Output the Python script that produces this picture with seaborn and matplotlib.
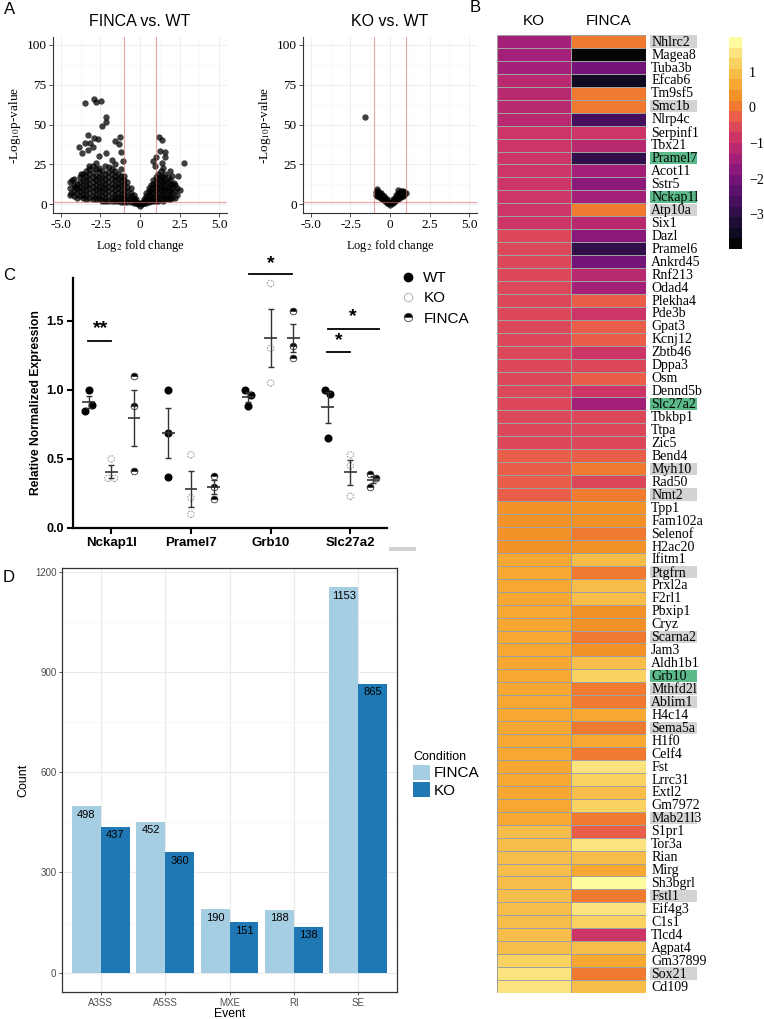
import numpy as np
import pandas as pd
import seaborn as sns
import matplotlib.pyplot as plt
from matplotlib.colors import ListedColormap
from matplotlib.patches import Rectangle, Patch
from matplotlib.lines import Line2D

# ---------------- Panel A: volcano plots ----------------
# dense cloud read off column by column: one log2FC value, the -log10 p values stacked on it
finca_core_lfc = [-4.4, -4.2, -4.0, -3.8, -3.6, -3.4, -3.2, -3.0, -2.8, -2.6, -2.4, -2.2,
                  -2.0, -1.8, -1.6, -1.4, -1.2, -1.0, -0.8, -0.6, -0.4, -0.25, -0.1, 0.0,
                  0.1, 0.25, 0.4, 0.55, 0.7, 0.85, 1.0, 1.15, 1.3, 1.45, 1.6, 1.75, 1.9,
                  2.05, 2.2, 2.35]
finca_core_logp = [
    [6, 10, 14], [5, 8, 12, 16], [4, 7, 10, 13], [5, 8, 11, 14, 17], [4, 6, 9, 12, 15, 19],
    [3, 6, 9, 12, 15, 18, 21], [4, 7, 10, 13, 16, 19, 22], [3, 5, 8, 11, 14, 17, 20, 24],
    [3, 6, 9, 12, 15, 18, 22, 26], [3, 5, 8, 11, 14, 17, 20, 23], [2, 5, 8, 11, 14, 17, 21],
    [2, 4, 7, 10, 13, 16, 19, 24], [2, 5, 8, 11, 14, 17, 20], [2, 4, 7, 10, 13, 16, 19, 22],
    [2, 4, 6, 9, 12, 15, 18, 21, 25], [2, 4, 7, 10, 13, 16, 19], [1.5, 4, 6, 9, 12, 15, 18, 22],
    [1.5, 3, 6, 9, 12, 15, 18], [1.5, 3, 5, 8, 11, 14], [1.5, 3, 5, 7, 10], [1, 2.5, 4, 6],
    [0.5, 1.5, 3], [0, 1], [-1, 0.5],
    [0, 1], [0.5, 2, 3.5], [1, 3, 5, 7], [1.5, 3.5, 6, 8, 10], [2, 4, 6, 9, 12],
    [2, 4, 7, 10, 13, 15], [2, 5, 8, 11, 14, 17], [2, 4, 7, 10, 13, 16, 19],
    [3, 6, 9, 12, 15, 18, 21], [2, 5, 8, 11, 14, 17], [3, 6, 9, 12, 15, 19],
    [3, 5, 8, 11, 14, 17], [3, 6, 9, 12, 15], [4, 7, 10, 13], [4, 8, 12], [6, 10]]
finca_out_lfc = [-3.46, -2.89, -2.81, -2.45, -2.16, -2.16, -2.43, -3.29, -3.48, -3.14,
                 -3.84, -3.65, -2.89, -2.66, -1.26, -1.61, -1.34, -1.17, -1.09, -3.27,
                 -2.99, -2.62, -2.16, -1.99, -3.2, -3.7, -4.28, -4.1, -4.34, -1.74,
                 1.2, 1.4, 1.24, 1.59, 1.59, 1.03, 0.84, 2.75, 2.39, 1.36,
                 1.9, 2.03, 2.56, 2.16, 1.47, 0.96]
finca_out_logp = [63.8, 66.3, 64.2, 64.8, 55, 51.9, 49, 43.3, 38.5, 38.3,
                  35.8, 31.9, 41.7, 41, 42.5, 39.8, 38.1, 33, 27, 34,
                  36, 30, 32, 23.5, 24, 19, 15, 11, 7, 27.7,
                  42.3, 40.2, 33.3, 32.9, 29.8, 29.8, 27, 25.6, 17.7, 26,
                  20.8, 18, 9, 13.5, 23, 24]

ko_core_lfc = [-0.9, -0.8, -0.7, -0.6, -0.5, -0.4, -0.3, -0.2, -0.1, 0.0,
               0.1, 0.2, 0.3, 0.4, 0.5, 0.6, 0.7, 0.8, 0.9, 1.0]
ko_core_logp = [[6, 7.5], [5, 6.5, 8, 9.5], [4.5, 6, 7.5], [4, 5.5, 7], [3.5, 5, 6],
                [2.5, 4, 5], [2, 3, 4], [1, 2, 3], [0.5, 1.5], [-0.5, 0.5],
                [0.5, 1.5], [1, 2, 3], [2, 3, 4], [2.5, 4, 5.5], [3, 5, 7, 9],
                [4, 5.5, 7], [4.5, 6, 7.5, 8.5], [5, 6.5, 8], [6, 7.5], [7]]
ko_out_lfc = [-1.6]
ko_out_logp = [54.5]

# ---------------- Panel B: heatmap ----------------
genes = ['Nhlrc2', 'Magea8', 'Tuba3b', 'Efcab6', 'Tm9sf5', 'Smc1b', 'Nlrp4c', 'Serpinf1',
         'Tbx21', 'Pramel7', 'Acot11', 'Sstr5', 'Nckap1l', 'Atp10a', 'Six1', 'Dazl',
         'Pramel6', 'Ankrd45', 'Rnf213', 'Odad4', 'Plekha4', 'Pde3b', 'Gpat3', 'Kcnj12',
         'Zbtb46', 'Dppa3', 'Osm', 'Dennd5b', 'Slc27a2', 'Tbkbp1', 'Ttpa', 'Zic5', 'Bend4',
         'Myh10', 'Rad50', 'Nmt2', 'Tpp1', 'Fam102a', 'Selenof', 'H2ac20', 'Ifitm1',
         'Ptgfrn', 'Prxl2a', 'F2rl1', 'Pbxip1', 'Cryz', 'Scarna2', 'Jam3', 'Aldh1b1',
         'Grb10', 'Mthfd2l', 'Ablim1', 'H4c14', 'Sema5a', 'H1f0', 'Celf4', 'Fst', 'Lrrc31',
         'Extl2', 'Gm7972', 'Mab21l3', 'S1pr1', 'Tor3a', 'Rian', 'Mirg', 'Sh3bgrl', 'Fstl1',
         'Eif4g3', 'C1s1', 'Tlcd4', 'Agpat4', 'Gm37899', 'Sox21', 'Cd109']
ko_z = [-1.55, -1.50, -1.42, -1.28, -1.22, -1.18, -1.10, -0.95, -0.92, -0.90,
        -0.88, -0.85, -0.83, -0.80, -0.75, -0.68, -0.65, -0.62, -0.60, -0.58,
        -0.57, -0.56, -0.55, -0.54, -0.53, -0.52, -0.50, -0.49, -0.48, -0.46,
        -0.44, -0.42, -0.35, -0.30, -0.25, -0.20, 0.25, 0.30, 0.35, 0.42,
        0.52, 0.53, 0.54, 0.55, 0.56, 0.57, 0.58, 0.59, 0.60, 0.61,
        0.62, 0.63, 0.64, 0.65, 0.66, 0.67, 0.68, 0.70, 0.72, 0.74,
        0.76, 0.80, 0.83, 0.86, 0.89, 0.92, 0.95, 0.98, 1.01, 1.03,
        1.05, 1.20, 1.45, 1.50]
finca_z = [0.05, -3.95, -2.05, -3.55, 0.02, 0.08, -2.65, -0.88, -1.10, -2.95,
           -1.45, -1.75, -1.42, 0.03, -1.12, -1.72, -2.85, -2.00, -1.15, -1.45,
           -0.25, -0.85, -0.22, -0.24, -0.80, -0.55, -0.28, -0.82, -1.40, -0.58,
           -0.52, -0.50, -0.30, 0.02, -0.55, 0.05, 0.35, 0.32, 0.05, 0.30,
           0.95, 0.06, 0.92, 0.90, 0.40, 0.45, 0.04, 0.38, 0.95, 1.25,
           0.02, 0.05, 0.62, 0.03, 0.60, 0.10, 1.55, 1.25, 0.95, 1.22,
           0.05, -0.20, 1.55, 0.95, 0.65, 1.90, 0.05, 1.50, 1.25, -0.85,
           0.90, 0.65, 0.08, 0.95]
grey_genes = ['Nhlrc2', 'Smc1b', 'Atp10a', 'Myh10', 'Nmt2', 'Ptgfrn', 'Scarna2', 'Mthfd2l',
              'Ablim1', 'Sema5a', 'Mab21l3', 'Fstl1', 'Sox21']
green_genes = ['Pramel7', 'Nckap1l', 'Slc27a2', 'Grb10']

# ---------------- Panel C: qPCR ----------------
qpcr_genes = ['Nckap1l', 'Pramel7', 'Grb10', 'Slc27a2']
wt_expr = [[1.00, 0.85, 0.89], [1.00, 0.69, 0.37], [1.00, 0.96, 0.88], [1.00, 0.97, 0.65]]
ko_expr = [[0.50, 0.36, 0.36], [0.53, 0.22, 0.10], [1.77, 1.30, 1.05], [0.53, 0.45, 0.23]]
finca_expr = [[1.10, 0.88, 0.41], [0.38, 0.30, 0.21], [1.57, 1.32, 1.23], [0.39, 0.36, 0.30]]

# ---------------- Panel D: splicing events ----------------
events = ['A3SS', 'A5SS', 'MXE', 'RI', 'SE']
finca_counts = [498, 452, 190, 188, 1153]
ko_counts = [437, 360, 151, 138, 865]

# ---------------- styling ----------------
plt.rcParams['font.family'] = ['Liberation Sans', 'DejaVu Sans']
plt.rcParams['mathtext.fontset'] = 'stix'
SERIF = 'Liberation Serif'
W, H = 764, 1019

heat_colors = ['#050505', '#110b21', '#1e0d35', '#300f4a', '#46105e', '#5c126d', '#741478',
               '#8b197b', '#a31f78', '#b92970', '#cc3566', '#dc4759', '#e85e48', '#f07a30',
               '#f4922a', '#f6a832', '#f8bd48', '#f9d262', '#fbe47e', '#fdfb9d']

fig = plt.figure(figsize=(W / 100, H / 100), dpi=100)


def px_axes(l, t, r, b):
    return fig.add_axes([l / W, 1 - b / H, (r - l) / W, (b - t) / H])


def volcano(ax, core_x, core_y, out_x, out_y, title):
    xs = [x for x, ys in zip(core_x, core_y) for _ in ys] + list(out_x)
    ys = [y for col in core_y for y in col] + list(out_y)
    ax.set_xlim(-5.5, 5.5)
    ax.set_ylim(-5.5, 105)
    ax.set_xticks([-5, -2.5, 0, 2.5, 5])
    ax.set_xticklabels(['-5.0', '-2.5', '0', '2.5', '5.0'])
    ax.set_yticks([0, 25, 50, 75, 100])
    ax.set_xticks([-3.75, -1.25, 1.25, 3.75], minor=True)
    ax.set_yticks([12.5, 37.5, 62.5, 87.5], minor=True)
    ax.grid(True, which='major', color='#ebebeb', lw=0.6)
    ax.grid(True, which='minor', color='#f5f5f5', lw=0.4)
    ax.set_axisbelow(True)
    sns.scatterplot(x=xs, y=ys, ax=ax, s=21, color='black', alpha=0.75, linewidth=0,
                    legend=False, zorder=3)
    for v in (-1, 1):
        ax.axvline(v, color='#e06666', lw=0.8, alpha=0.6, zorder=4)
    ax.axhline(1.3, color='#e06666', lw=0.8, alpha=0.6, zorder=4)
    for s in ('top', 'right'):
        ax.spines[s].set_visible(False)
    for s in ('left', 'bottom'):
        ax.spines[s].set_color('#333333')
        ax.spines[s].set_linewidth(0.8)
    ax.tick_params(which='major', length=3, width=0.6, color='#333333', pad=1.5, labelsize=9.5)
    ax.tick_params(which='minor', length=0)
    for lab in ax.get_xticklabels() + ax.get_yticklabels():
        lab.set_family(SERIF)
    ax.set_xlabel(r'Log$_2$ fold change', family=SERIF, fontsize=9, labelpad=5)
    ax.set_ylabel(r'-Log$_{10}$p-value', family=SERIF, fontsize=9.5, labelpad=3)
    ax.set_title(title, fontsize=11.5, pad=8)


ax_a1 = px_axes(53, 37, 227, 213)
volcano(ax_a1, finca_core_lfc, finca_core_logp, finca_out_lfc, finca_out_logp, 'FINCA vs. WT')
ax_a2 = px_axes(303, 37, 477, 213)
volcano(ax_a2, ko_core_lfc, ko_core_logp, ko_out_lfc, ko_out_logp, 'KO vs. WT')

# ---------------- Panel B ----------------
heat_df = pd.DataFrame({'KO': ko_z, 'FINCA': finca_z}, index=genes)
ax_b = px_axes(497, 35, 646, 993)
cax = px_axes(729, 37, 742, 249)
sns.heatmap(heat_df, ax=ax_b, cbar_ax=cax, cmap=ListedColormap(heat_colors),
            vmin=-3.98, vmax=1.98, linewidths=0.7, linecolor='#a0a0a0',
            xticklabels=True, yticklabels=False)
ax_b.xaxis.tick_top()
ax_b.tick_params(axis='x', length=0, labelsize=11, pad=5)
ax_b.set_ylabel('')
for i, g in enumerate(genes):
    if g in grey_genes or g in green_genes:
        fc = '#5bb98a' if g in green_genes else '#d3d3d3'
        ax_b.add_patch(Rectangle((2.054, i + 0.03), 0.63, 0.94, facecolor=fc,
                                 edgecolor='none', clip_on=False, zorder=1))
    ax_b.text(2.07, i + 0.55, g, family=SERIF, fontsize=10, va='center', ha='left',
              clip_on=False, zorder=2)
cbar = ax_b.collections[0].colorbar
cbar.outline.set_visible(False)
cbar.set_ticks([-3, -2, -1, 0, 1])
cax.tick_params(length=0, labelsize=10, pad=5)
for lab in cax.get_yticklabels():
    lab.set_family(SERIF)

# ---------------- Panel C ----------------
ax_c = px_axes(73, 278, 387, 528)
dodge = [-0.285, 0.0, 0.285]
jitter_wt = [[0.01, -0.04, 0.04], [0, 0, 0], [-0.04, 0.04, 0], [-0.035, 0.035, 0]]
jitter_ko = [[0, -0.04, 0.04], [0, 0, 0], [0, 0, 0], [0, 0, 0]]
jitter_fi = [[0, 0, 0], [0, 0, 0], [0, 0, 0], [-0.04, 0.04, -0.04]]
for gi in range(len(qpcr_genes)):
    for k, (vals, jit) in enumerate([(wt_expr, jitter_wt), (ko_expr, jitter_ko),
                                     (finca_expr, jitter_fi)]):
        v = np.array(vals[gi])
        xs = gi + dodge[k] + np.array(jit[gi])
        if k == 0:
            ax_c.plot(xs, v, ls='none', marker='o', ms=4.8, color='black', zorder=3)
        elif k == 1:
            ax_c.scatter(xs, v, s=22, facecolors='white', edgecolors='#a0a0a0',
                         linewidths=0.8, linestyles=(0, (1.5, 1)), zorder=3)
        else:
            ax_c.plot(xs, v, ls='none', marker='o', ms=4.8, fillstyle='top', mfc='black',
                      markerfacecoloralt='white', mec='#333333', mew=0.6, zorder=3)
        m = v.mean()
        sem = v.std(ddof=1) / np.sqrt(len(v))
        xc = gi + dodge[k]
        ax_c.errorbar([xc], [m], yerr=[sem], fmt='none', ecolor='#333333', elinewidth=1,
                      capsize=2.5, capthick=1, zorder=4)
        ax_c.hlines(m, xc - 0.08, xc + 0.08, color='#333333', lw=1.2, zorder=4)

ax_c.set_xlim(-0.48, 3.46)
ax_c.set_ylim(0, 1.81)
ax_c.set_yticks([0, 0.5, 1.0, 1.5])
ax_c.set_yticklabels(['0.0', '0.5', '1.0', '1.5'], fontweight='bold', fontsize=9)
ax_c.set_xticks(range(len(qpcr_genes)))
ax_c.set_xticklabels(qpcr_genes, fontweight='bold', fontsize=9.5)
for s in ('top', 'right'):
    ax_c.spines[s].set_visible(False)
for s in ('left', 'bottom'):
    ax_c.spines[s].set_linewidth(1.6)
ax_c.tick_params(length=4, width=1.5, pad=2.5)
ax_c.set_ylabel('Relative Normalized Expression', fontweight='bold', fontsize=8.7, labelpad=3)

# significance brackets
brackets = [(-0.29, 0.0, 1.353, -0.14, 1.445, '**'),
            (1.73, 2.27, 1.836, 2.0, 1.915, '*'),
            (2.71, 3.0, 1.275, 2.85, 1.36, '*'),
            (2.72, 3.36, 1.444, 3.03, 1.534, '*')]
for x0, x1, yb, xs_, ys_, star in brackets:
    ax_c.plot([x0, x1], [yb, yb], color='black', lw=1.3, clip_on=False)
    ax_c.text(xs_, ys_, star, ha='center', va='center', fontsize=14, fontweight='bold',
              clip_on=False)

leg_c = [Line2D([], [], ls='none', marker='o', ms=6, color='black'),
         Line2D([], [], ls='none', marker='o', ms=6, mfc='white', mec='#b0b0b0', mew=0.7),
         Line2D([], [], ls='none', marker='o', ms=6, fillstyle='top', mfc='black',
                markerfacecoloralt='white', mec='#444444', mew=0.6)]
fig.legend(leg_c, ['WT', 'KO', 'FINCA'], loc='upper left', bbox_to_anchor=(402 / W, 1 - 271 / H),
           frameon=False, fontsize=11, handlelength=0.8, handletextpad=0.6,
           labelspacing=0.42, borderpad=0, borderaxespad=0)

fig.add_artist(Rectangle((389 / W, 1 - 551 / H), 27 / W, 4 / H, transform=fig.transFigure,
                         facecolor='#d3d3d3', edgecolor='none'))

# ---------------- Panel D ----------------
ax_d = px_axes(62, 568, 397, 992)
splice_df = pd.DataFrame({'Event': events * 2,
                          'Count': finca_counts + ko_counts,
                          'Condition': ['FINCA'] * len(events) + ['KO'] * len(events)})
pal = {'FINCA': '#a6cee3', 'KO': '#1f78b4'}
sns.barplot(data=splice_df, x='Event', y='Count', hue='Condition', hue_order=['FINCA', 'KO'],
            palette=pal, saturation=1, width=0.9, gap=0, legend=False, ax=ax_d, zorder=3)
for cont in ax_d.containers:
    for bar in cont:
        h = bar.get_height()
        ax_d.annotate(f'{int(round(h))}', (bar.get_x() + bar.get_width() / 2, h),
                      xytext=(0, -6), textcoords='offset points', ha='center', va='center',
                      fontsize=8, zorder=4)
ax_d.set_xlim(-0.6, 4.6)
ax_d.set_ylim(-57.6, 1210.7)
ax_d.set_yticks([0, 300, 600, 900, 1200])
ax_d.set_yticks([150, 450, 750, 1050], minor=True)
ax_d.grid(True, which='major', color='#ebebeb', lw=0.8)
ax_d.grid(True, which='minor', axis='y', color='#f4f4f4', lw=0.5)
ax_d.set_axisbelow(True)
for s in ax_d.spines.values():
    s.set_color('#333333')
    s.set_linewidth(0.9)
ax_d.tick_params(which='major', length=2.5, width=0.6, color='#333333', labelsize=7,
                 labelcolor='#4d4d4d', pad=1.5)
ax_d.tick_params(which='minor', length=0)
ax_d.set_xlabel('Event', fontsize=8.8, labelpad=0)
ax_d.set_ylabel('Count', fontsize=9, labelpad=4)

leg_d = [Patch(facecolor=pal['FINCA']), Patch(facecolor=pal['KO'])]
fig.legend(leg_d, ['FINCA', 'KO'], title='Condition', loc='upper left',
           bbox_to_anchor=(413 / W, 1 - 751 / H), frameon=False, fontsize=11,
           title_fontsize=9, handlelength=1.1, handleheight=1.1, handletextpad=0.25,
           labelspacing=0.12, alignment='left', borderpad=0, borderaxespad=0)

# panel letters
for txt, x, y in [('A', 4, 9), ('B', 470, 8), ('C', 3, 275), ('D', 3, 578)]:
    fig.text(x / W, 1 - y / H, txt, fontsize=12, va='center', ha='left')

fig.savefig('out.png', dpi=100)
